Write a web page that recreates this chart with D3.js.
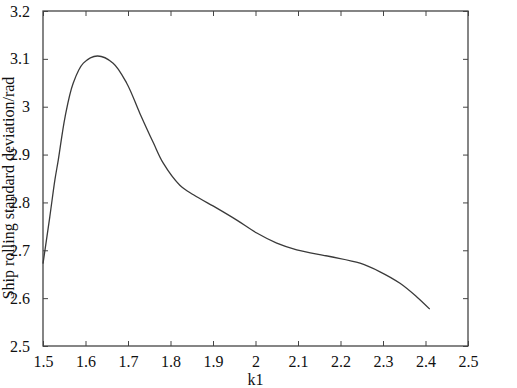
<!DOCTYPE html>
<html lang="en">
<head>
	<meta charset="utf-8">
	<title>Ship rolling</title>
	<script src="https://d3js.org/d3.v7.min.js"></script>
	<style>
		body {
			padding: 0px;
			margin: 0px;
			background: #fff;
		}
	</style>
</head>

<body>
	<div id="chart"></div>
	<script>

		// Data
		var k1 = [1.5, 1.516, 1.528, 1.536, 1.552, 1.571, 1.595, 1.628, 1.665, 1.697, 1.728, 1.76,
			1.783, 1.822, 1.854, 1.909, 1.956, 2.003, 2.05, 2.097, 2.175, 2.246, 2.293, 2.34, 2.379, 2.41];
		var rollStd = [2.672, 2.77, 2.847, 2.889, 2.979, 3.049, 3.091, 3.106, 3.091, 3.049, 2.986, 2.924,
			2.882, 2.836, 2.816, 2.788, 2.763, 2.736, 2.715, 2.701, 2.687, 2.673, 2.655, 2.631, 2.603, 2.577];

		var xTicks = [1.5, 1.6, 1.7, 1.8, 1.9, 2, 2.1, 2.2, 2.3, 2.4, 2.5];
		var yTicks = [2.5, 2.6, 2.7, 2.8, 2.9, 3, 3.1, 3.2];

		var xLabel = "k1";
		var yLabel = "Ship rolling standard deviation/rad";

		// Sizes
		var width = 517,
			height = 388;
		var margin = { top: 11, right: 49, bottom: 42, left: 43 };
		var w = width - margin.left - margin.right;
		var h = height - margin.top - margin.bottom;
		var tickLen = 5;
		var serif = "'Liberation Serif', 'Times New Roman', serif";

		var svg = d3.select("#chart")
			.append("svg")
			.attr("width", width)
			.attr("height", height);

		var g = svg.append("g")
			.attr("transform", "translate(" + margin.left + "," + margin.top + ")");

		var x = d3.scaleLinear().domain([1.5, 2.5]).range([0, w]);
		var y = d3.scaleLinear().domain([2.5, 3.2]).range([h, 0]);

		var fmt = function (d) { return String(+d.toFixed(1)); };

		function styleAxis(a) {
			a.select(".domain").remove();
			a.attr("font-family", serif).attr("font-size", 16);
			a.selectAll("text").attr("fill", "#111");
		}

		// Bottom axis with labels, ticks inward
		g.append("g")
			.attr("transform", "translate(0," + h + ")")
			.call(d3.axisBottom(x).tickValues(xTicks).tickSizeInner(-tickLen).tickSizeOuter(0).tickPadding(10).tickFormat(fmt))
			.call(styleAxis);

		// Top axis: ticks only
		g.append("g")
			.call(d3.axisTop(x).tickValues(xTicks).tickSizeInner(-tickLen).tickSizeOuter(0).tickFormat(""))
			.call(styleAxis);

		// Left axis with labels
		g.append("g")
			.call(d3.axisLeft(y).tickValues(yTicks).tickSizeInner(-tickLen).tickSizeOuter(0).tickPadding(13).tickFormat(fmt))
			.call(styleAxis);

		// Right axis: ticks only
		g.append("g")
			.attr("transform", "translate(" + w + ",0)")
			.call(d3.axisRight(y).tickValues(yTicks).tickSizeInner(-tickLen).tickSizeOuter(0).tickFormat(""))
			.call(styleAxis);

		g.selectAll(".tick line").attr("stroke", "#444").attr("stroke-width", 1);

		// Frame
		g.append("rect")
			.attr("width", w)
			.attr("height", h)
			.attr("fill", "none")
			.attr("stroke", "#444")
			.attr("stroke-width", 1.3);

		// Curve
		var pts = k1.map(function (d, i) { return [d, rollStd[i]]; });
		var line = d3.line()
			.x(function (d) { return x(d[0]); })
			.y(function (d) { return y(d[1]); })
			.curve(d3.curveCatmullRom.alpha(0.5));

		g.append("path")
			.datum(pts)
			.attr("fill", "none")
			.attr("stroke", "#3a3a3a")
			.attr("stroke-width", 1.3)
			.attr("d", line);

		// Axis titles
		svg.append("text")
			.attr("font-family", serif)
			.attr("font-size", 16)
			.attr("fill", "#111")
			.attr("x", margin.left + x(2))
			.attr("y", 385)
			.attr("text-anchor", "middle")
			.text(xLabel);

		svg.append("text")
			.attr("font-family", serif)
			.attr("font-size", 16)
			.attr("fill", "#111")
			.attr("transform", "translate(13.5," + 188 + ") rotate(-90)")
			.attr("text-anchor", "middle")
			.text(yLabel);

	</script>
</body>
</html>
